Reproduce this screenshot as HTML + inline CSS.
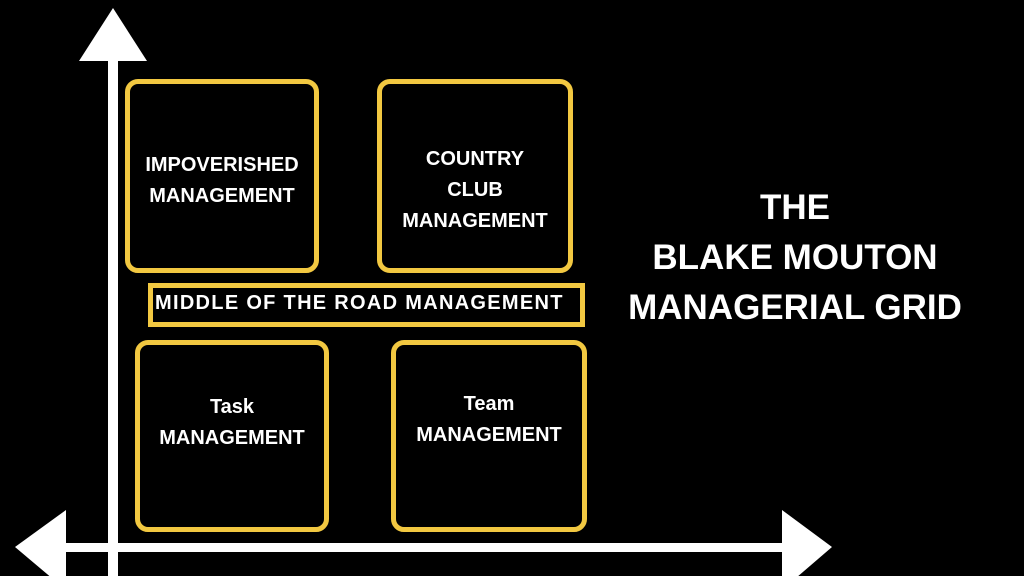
<!DOCTYPE html>
<html><head><style>
body{margin:0;width:1024px;height:576px;background:#000;overflow:hidden;position:relative;font-family:"Liberation Sans",sans-serif;font-weight:bold;color:#fff}
.b{position:absolute;border:5px solid #f2c841;border-radius:13px;box-sizing:border-box;text-align:center;font-size:20px;line-height:31px}
.t{position:absolute;left:600px;width:390px;text-align:center;font-size:35px;line-height:50px;top:183px}
</style></head><body>
<svg width="1024" height="576" style="position:absolute;left:0;top:0">
<rect x="108" y="55" width="10" height="530" fill="#fff"/>
<polygon points="113,8 79,61 147,61" fill="#fff"/>
<rect x="60" y="543" width="730" height="9" fill="#fff"/>
<polygon points="15,547 66,510 66,590" fill="#fff"/>
<polygon points="832,547 782,510 782,590" fill="#fff"/>
</svg>
<div class="b" style="left:125px;top:79px;width:194px;height:194px;padding-top:66px">IMPOVERISHED<br>MANAGEMENT</div>
<div class="b" style="left:377px;top:79px;width:196px;height:194px;padding-top:60px">COUNTRY<br>CLUB<br>MANAGEMENT</div>
<div class="b" style="left:148px;top:283px;width:437px;height:44px;border-radius:0;font-size:20px;text-align:left;padding-left:2px;padding-top:0px;letter-spacing:1.3px">MIDDLE OF THE ROAD MANAGEMENT</div>
<div class="b" style="left:135px;top:340px;width:194px;height:192px;padding-top:47px">Task<br>MANAGEMENT</div>
<div class="b" style="left:391px;top:340px;width:196px;height:192px;padding-top:44px">Team<br>MANAGEMENT</div>
<div class="t">THE<br>BLAKE MOUTON<br>MANAGERIAL GRID</div>
</body></html>
